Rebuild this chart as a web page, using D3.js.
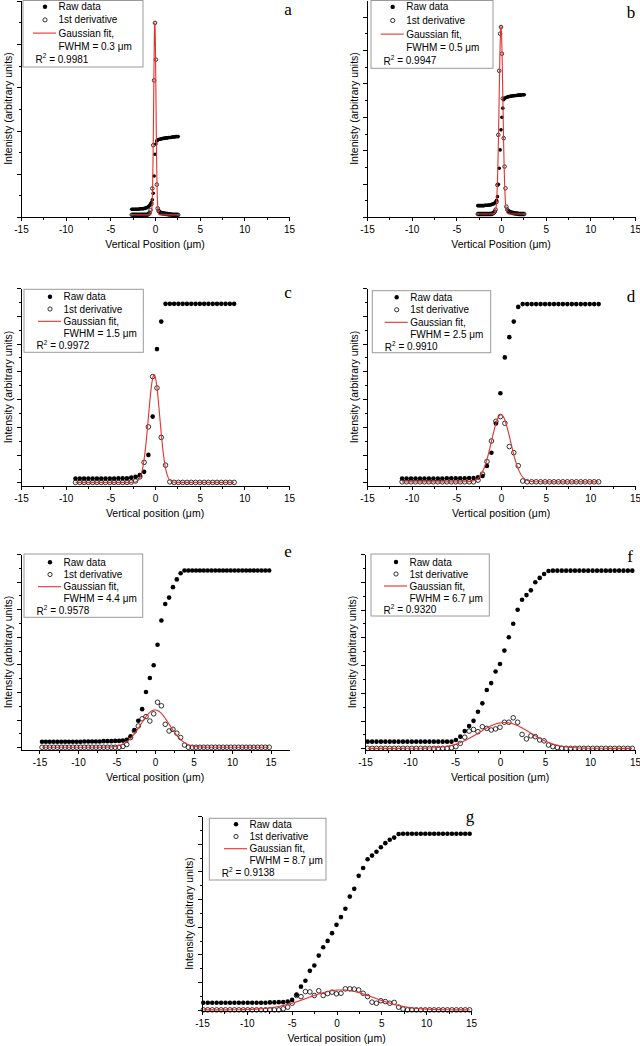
<!DOCTYPE html>
<meta charset="utf-8">
<style>
  body { margin: 0; background: #fff; }
  svg text { font-family: "Liberation Sans", Arial, sans-serif; fill: #000; }
  .axis path, .axis line { stroke: #000; stroke-width: 1; shape-rendering: crispEdges; }
  .axis text { font-size: 10px; font-family: "Liberation Sans", Arial, sans-serif; }
  .title { font-size: 10.5px; }
  .leg text { font-size: 10px; }
  svg text.letter { font-family: "Liberation Serif", "Times New Roman", serif; font-size: 17px; }
</style>
<body>
<script src="https://d3js.org/d3.v7.min.js"></script>
<script>

// panel letters and legend numbers
var letters = ["a", "b", "c", "d", "e", "f", "g"];
var fwhm = [0.3, 0.5, 1.5, 2.5, 4.4, 6.7, 8.7];
var rSquared = ["0.9981", "0.9947", "0.9972", "0.9910", "0.9578", "0.9320", "0.9138"];

// gaussian fit parameters
var fitCenter = [-0.02, 0.0, -0.1, 0.0, 0.0, 0.5, 0.5];
var fitAmp = [4.45, 5.6, 3.87, 2.42, 1.35, 0.93, 0.72];
var fitBase = [0.05, 0.09, 0.0, 0.02, 0.0, 0.0, 0.0];

// sampling grid of each scan: first position and step (um)
var gridStart = [-2.6, -2.6, -8.9, -11.07, -14.67, -14.7, -14.85];
var gridStep = [0.1, 0.1, 0.48, 0.5, 0.5, 0.49, 0.495];

var yTitles = ["Intenisty (arbitrary units)", "Intenisty (arbitrary units)",
  "Intensity (arbitrary units)", "Intensity (arbitrary units)", "Intensity (arbitrary units)",
  "Intensity (arbitrary units)", "Intensity (arbitrary units)"];
var xTitles = ["Vertical Position (\u03bcm)", "Vertical Position (\u03bcm)",
  "Vertical position (\u03bcm)", "Vertical position (\u03bcm)", "Vertical position (\u03bcm)",
  "Vertical position (\u03bcm)", "Vertical position (\u03bcm)"];
var xTicks = [-15, -10, -5, 0, 5, 10, 15];

// raw data (filled) and 1st derivative (open), arbitrary units
var rawA = [0.18,0.18,0.18,0.18,0.18,0.18,0.18,0.18,0.18,0.19,
  0.19,0.19,0.19,0.19,0.20,0.20,0.21,0.22,0.23,0.25,
  0.27,0.30,0.34,0.40,0.55,0.95,1.45,1.69,1.76,1.78,
  1.79,1.80,1.80,1.81,1.81,1.82,1.82,1.82,1.83,1.83,
  1.83,1.84,1.84,1.84,1.84,1.85,1.85,1.85,1.85,1.86,
  1.86,1.86,1.86];
var derivA = [0.05,0.05,0.05,0.05,0.05,0.05,0.05,0.05,0.05,0.05,
  0.05,0.05,0.05,0.05,0.05,0.05,0.05,0.05,0.06,0.07,
  0.10,0.16,0.30,0.66,1.66,3.16,4.49,3.64,0.75,0.20,
  0.14,0.12,0.10,0.09,0.09,0.08,0.08,0.08,0.07,0.07,
  0.07,0.06,0.06,0.06,0.06,0.05,0.05,0.05,0.05,0.05,
  0.05,0.05,0.05];

var rawB = [0.34,0.34,0.34,0.34,0.34,0.34,0.34,0.34,0.35,0.35,
  0.35,0.35,0.36,0.36,0.36,0.37,0.38,0.39,0.40,0.42,
  0.45,0.50,0.61,0.98,1.46,2.01,2.61,2.99,3.26,3.51,
  3.55,3.57,3.58,3.59,3.60,3.61,3.61,3.62,3.62,3.63,
  3.63,3.63,3.64,3.64,3.64,3.65,3.65,3.65,3.65,3.66,
  3.66,3.66,3.66];
var derivB = [0.09,0.09,0.09,0.09,0.09,0.09,0.09,0.09,0.09,0.09,
  0.09,0.09,0.09,0.09,0.09,0.09,0.10,0.11,0.13,0.16,
  0.22,0.45,0.96,2.46,4.38,5.49,5.69,4.89,3.55,2.36,
  1.51,0.86,0.31,0.22,0.18,0.16,0.15,0.14,0.13,0.12,
  0.12,0.11,0.11,0.10,0.10,0.10,0.09,0.09,0.09,0.09,
  0.09,0.09,0.09];

var rawC = [0.14,0.14,0.14,0.14,0.14,0.14,0.14,0.14,0.14,0.14,
  0.15,0.15,0.15,0.17,0.20,0.26,0.38,0.99,2.37,4.80,
  5.79,6.43,6.43,6.43,6.43,6.43,6.43,6.43,6.43,6.43,
  6.43,6.43,6.43,6.43,6.43,6.43,6.43,6.43];
var derivC = [0,0,0,0,0,0,0,0,0,0,
  0,0,0,0.01,0.05,0.20,0.72,2.00,3.81,3.40,
  1.62,0.62,0.02,0,0,0,0,0,0,0,
  0,0,0,0,0,0,0,0];

var rawD = [0.14,0.14,0.14,0.14,0.14,0.14,0.14,0.14,0.14,0.14,
  0.15,0.15,0.15,0.15,0.15,0.16,0.16,0.18,0.23,0.59,
  1.07,2.12,3.21,4.50,5.23,5.79,6.32,6.42,6.42,6.42,
  6.42,6.42,6.42,6.42,6.42,6.42,6.42,6.42,6.42,6.42,
  6.42,6.42,6.42,6.42,6.42];
var derivD = [0.02,0.02,0.02,0.02,0.02,0.02,0.02,0.02,0.02,0.02,
  0.02,0.02,0.02,0.02,0.02,0.02,0.02,0.08,0.30,0.75,
  1.49,2.20,2.37,2.13,1.29,1.07,0.60,0.05,0.02,0.02,
  0.02,0.02,0.02,0.02,0.02,0.02,0.02,0.02,0.02,0.02,
  0.02,0.02,0.02,0.02,0.02];

var rawE = [0.20,0.20,0.20,0.20,0.20,0.20,0.20,0.20,0.20,0.20,
  0.20,0.21,0.21,0.21,0.21,0.21,0.22,0.22,0.22,0.23,
  0.23,0.24,0.27,0.40,0.62,0.96,1.38,2.00,2.51,2.97,
  3.71,4.59,5.19,5.42,5.80,6.08,6.30,6.40,6.40,6.40,
  6.40,6.40,6.40,6.40,6.40,6.40,6.40,6.40,6.40,6.40,
  6.40,6.40,6.40,6.40,6.40,6.40,6.40,6.40,6.40,6.40];
var derivE = [0,0,0,0,0,0,0,0,0,0,
  0,0,0,0,0,0,0,0,0,0,
  0,0.03,0.10,0.35,0.59,0.77,1.03,1.11,0.95,1.21,
  1.63,1.50,0.83,0.59,0.65,0.51,0.35,0.08,0,0,
  0,0,0,0,0,0,0,0,0,0,
  0,0,0,0,0,0,0,0,0,0];

var rawF = [0.24,0.24,0.24,0.24,0.24,0.24,0.24,0.24,0.24,0.24,
  0.24,0.24,0.24,0.24,0.24,0.24,0.24,0.24,0.24,0.24,
  0.30,0.42,0.62,0.80,0.99,1.32,1.62,2.10,2.35,2.77,
  3.04,3.52,4.00,4.49,4.99,5.35,5.52,5.69,5.98,6.14,
  6.28,6.39,6.40,6.40,6.40,6.40,6.40,6.40,6.40,6.40,
  6.40,6.40,6.40,6.40,6.40,6.40,6.40,6.40,6.40,6.40,
  6.40];
var derivF = [0,0,0,0,0,0,0,0,0,0,
  0,0,0,0,0,0,0,0,0,0.02,
  0.06,0.18,0.40,0.62,0.68,0.60,0.78,0.72,0.66,0.70,
  0.76,0.94,0.94,1.10,0.94,0.50,0.34,0.45,0.42,0.30,
  0.27,0.12,0.06,0.03,0,0,0,0,0,0,
  0,0,0,0,0,0,0,0,0,0,
  0];

var rawG = [0.26,0.26,0.26,0.26,0.26,0.26,0.26,0.26,0.26,0.26,
  0.26,0.26,0.26,0.26,0.26,0.27,0.27,0.28,0.28,0.30,
  0.36,0.55,0.84,1.05,1.41,1.60,1.96,2.26,2.49,2.77,
  3.07,3.35,3.65,4.09,4.37,4.84,5.12,5.44,5.57,5.71,
  5.87,6.02,6.14,6.22,6.35,6.36,6.36,6.36,6.36,6.36,
  6.36,6.36,6.36,6.36,6.36,6.36,6.36,6.36,6.36,6.36,
  6.36];
var derivG = [0,0,0,0,0,0,0,0,0,0,
  0,0,0,0,0,0,0,0,0.04,0.10,
  0.24,0.52,0.48,0.66,0.65,0.52,0.69,0.52,0.59,0.64,
  0.58,0.60,0.76,0.76,0.75,0.72,0.60,0.48,0.28,0.24,
  0.33,0.30,0.24,0.27,0.10,0.03,0,0,0,0,
  0,0,0,0,0,0,0,0,0,0,
  0];

var rawSeries = [rawA, rawB, rawC, rawD, rawE, rawF, rawG];
var derivSeries = [derivA, derivB, derivC, derivD, derivE, derivF, derivG];

// layout of each panel (pixels) and axis domains
var panels = [
  {left: 21,  right: 289, top: 0,   bottom: 217,  xDom: [-15, 15],     yDom: [0, 5.02],    r: 1.8, leg: [23, 0.5, 120, 66.5, 6.2, 13.2, 22],      letter: [288, 15]},
  {left: 367, right: 635, top: 0,   bottom: 217,  xDom: [-15, 15],     yDom: [0, 6.5],     r: 1.8, leg: [371, 0.5, 122, 67.8, 6.4, 13.6, 21.7],   letter: [631, 18]},
  {left: 21,  right: 289, top: 288, bottom: 486,  xDom: [-15, 15],     yDom: [-0.13, 7.0], r: 2.3, leg: [24, 289.3, 119.3, 63, 7.4, 12.3, 26],     letter: [288, 297.5]},
  {left: 367, right: 635, top: 288, bottom: 486,  xDom: [-15, 15],     yDom: [-0.13, 7.0], r: 2.3, leg: [372.3, 290.7, 118.4, 62, 6.6, 12.5, 24.4], letter: [631, 301.5]},
  {left: 21,  right: 289, top: 554, bottom: 750,  xDom: [-17.4, 17.4], yDom: [-0.1, 7.0],  r: 2.3, leg: [24, 554, 118.7, 63.3, 8.3, 12.2, 26],       letter: [288, 557]},
  {left: 365, right: 635, top: 554, bottom: 750,  xDom: [-15, 15],     yDom: [-0.06, 7.0], r: 2.3, leg: [371, 554, 118.3, 62, 8, 12, 25],            letter: [630, 561.5]},
  {left: 202, right: 471, top: 816, bottom: 1011, xDom: [-15, 15],     yDom: [-0.04, 7.0], r: 2.3, leg: [209.3, 818.3, 116.7, 61.7, 6, 12.2, 26.7], letter: [470, 821.5]}
];

var red = "#e4312f";

var svg = d3.select("body")
            .append("svg")
            .attr("width", 640)
            .attr("height", 1046);

panels.forEach(function(p, k) {

  var x = d3.scaleLinear().domain(p.xDom).range([p.left, p.right]);
  var y = d3.scaleLinear().domain(p.yDom).range([p.bottom, p.top]);
  var g = svg.append("g");
  var pos = function(i) { return gridStart[k] + gridStep[k] * i; };

  /*
  ** axes: major + minor ticks, no y labels
  */
  g.append("g").attr("class", "axis")
    .attr("transform", "translate(0," + p.bottom + ")")
    .call(d3.axisBottom(x).tickValues(xTicks).tickSize(4).tickSizeOuter(0)
      .tickPadding(5).tickFormat(function(d) { return String(d); }));
  g.append("g").attr("class", "axis")
    .attr("transform", "translate(0," + p.bottom + ")")
    .call(d3.axisBottom(x).tickValues(d3.range(-12.5, 15, 5)).tickSize(2.5).tickSizeOuter(0).tickFormat(""))
    .select(".domain").remove();

  var yMajor = d3.range(0, p.yDom[1] + 0.001, 1);
  var yMinor = d3.range(0.5, p.yDom[1], 1);
  g.append("g").attr("class", "axis")
    .attr("transform", "translate(" + p.left + ",0)")
    .call(d3.axisLeft(y).tickValues(yMajor).tickSize(4).tickSizeOuter(0).tickFormat(""));
  g.append("g").attr("class", "axis")
    .attr("transform", "translate(" + p.left + ",0)")
    .call(d3.axisLeft(y).tickValues(yMinor).tickSize(2.5).tickSizeOuter(0).tickFormat(""))
    .select(".domain").remove();

  g.append("text").attr("class", "title")
    .attr("text-anchor", "middle")
    .attr("transform", "translate(" + (p.left - 13) + "," + ((p.top + p.bottom) / 2) + ") rotate(-90)")
    .attr("dy", "0.35em")
    .text(yTitles[k]);

  g.append("text").attr("class", "title")
    .attr("text-anchor", "middle")
    .attr("x", (p.left + p.right) / 2)
    .attr("y", p.bottom + 27)
    .attr("dy", "0.35em")
    .text(xTitles[k]);

  /*
  ** data points and gaussian fit
  */
  g.append("g").selectAll("circle")
    .data(rawSeries[k]).enter().append("circle")
    .attr("cx", function(d, i) { return x(pos(i)); })
    .attr("cy", function(d) { return y(d); })
    .attr("r", p.r)
    .attr("fill", "#000");

  g.append("g").selectAll("circle")
    .data(derivSeries[k]).enter().append("circle")
    .attr("cx", function(d, i) { return x(pos(i)); })
    .attr("cy", function(d) { return y(d); })
    .attr("r", p.r)
    .attr("fill", "none")
    .attr("stroke", "#000")
    .attr("stroke-width", 0.8);

  var x0 = pos(0), x1 = pos(rawSeries[k].length - 1);
  var sigma = fwhm[k] / 2.3548;
  var fitX = d3.range(501).map(function(j) { return x0 + (x1 - x0) * j / 500; });
  var line = d3.line()
    .x(function(d) { return x(d); })
    .y(function(d) {
      var z = (d - fitCenter[k]) / sigma;
      return y(fitBase[k] + fitAmp[k] * Math.exp(-0.5 * z * z));
    });
  g.append("path").datum(fitX)
    .attr("d", line)
    .attr("fill", "none")
    .attr("stroke", red)
    .attr("stroke-width", 1.1);

  /*
  ** legend box
  */
  var L = p.leg;
  var leg = g.append("g").attr("class", "leg");
  leg.append("rect")
    .attr("x", L[0]).attr("y", L[1]).attr("width", L[2]).attr("height", L[3])
    .attr("fill", "#fff").attr("stroke", "#9a9a9a").attr("stroke-width", 1);
  var row = function(n) { return L[1] + L[4] + L[5] * n; };
  var mx = L[0] + L[6], tx = mx + 13.5;

  leg.append("circle").attr("cx", mx).attr("cy", row(0)).attr("r", 2.2).attr("fill", "#000");
  leg.append("circle").attr("cx", mx).attr("cy", row(1)).attr("r", 2.1)
    .attr("fill", "none").attr("stroke", "#000").attr("stroke-width", 0.8);
  leg.append("line").attr("x1", mx - 12).attr("x2", mx + 11)
    .attr("y1", row(2)).attr("y2", row(2))
    .attr("stroke", red).attr("stroke-width", 1.1);

  var labels = ["Raw data", "1st derivative", "Gaussian fit,", "FWHM = " + fwhm[k] + " \u03bcm"];
  labels.forEach(function(t, n) {
    leg.append("text").attr("x", tx).attr("y", row(n)).attr("dy", "0.35em").text(t);
  });
  var r2 = leg.append("text").attr("x", L[0] + 12.5).attr("y", row(4)).attr("dy", "0.35em");
  r2.append("tspan").text("R");
  r2.append("tspan").attr("font-size", "6.5px").attr("dy", "-0.75em").text("2");
  r2.append("tspan").attr("dy", "0.45em").text(" = " + rSquared[k]);

  g.append("text").attr("class", "letter")
    .attr("text-anchor", "middle")
    .attr("x", p.letter[0]).attr("y", p.letter[1])
    .text(letters[k]);
});

</script>
</body>
</html>
